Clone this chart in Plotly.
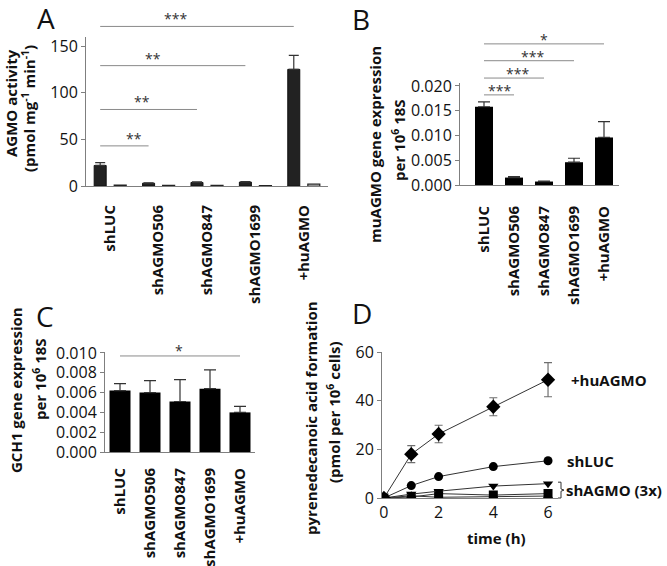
import plotly.graph_objects as go

W, H = 667, 566

# ---------------- data ----------------
cats = ["shLUC", "shAGMO506", "shAGMO847", "shAGMO1699", "+huAGMO"]

# Panel A (AGMO activity)
a_dark = [22.0, 3.0, 3.8, 4.2, 125.0]
a_dark_err = [3.0, 0.5, 0.6, 0.5, 15.0]
a_open = [1.0, 0.8, 0.8, 0.3, 2.0]
a_sig_to = [4, 3, 2, 1]
a_sig_y = [171, 129, 82, 43]
a_sig_lab = ["***", "**", "**", "**"]
a_star_x = [1.34, 0.88, 0.66, 0.49]

# Panel B (muAGMO expression)
b_vals = [0.0158, 0.0015, 0.0007, 0.0046, 0.0096]
b_err = [0.0010, 0.0002, 0.0001, 0.0008, 0.0032]
b_sig_to = [1, 2, 3, 4]
b_sig_y = [0.0182, 0.0216, 0.0251, 0.0285]
b_sig_lab = ["***", "***", "***", "*"]
b_star_x = [0.5, 1.1, 1.63, 2.0]

# Panel C (GCH1 expression)
c_vals = [0.0062, 0.0060, 0.0051, 0.0064, 0.0040]
c_err = [0.0007, 0.0012, 0.0022, 0.0019, 0.0006]
c_sig_to = [4]
c_sig_y = [0.0097]
c_sig_lab = ["*"]
c_star_x = [1.98]

# Panel D (pyrenedecanoic acid formation)
t = [0, 1, 2, 4, 6]
d_hu = [0, 18.0, 26.3, 37.5, 48.6]
d_hu_err = [0, 3.5, 3.6, 3.7, 7.0]
d_luc = [0, 5.1, 8.8, 12.9, 15.3]
d_sh1 = [0, 1.6, 2.8, 4.9, 5.9]
d_sh2 = [0, 0.4, 1.8, 1.2, 1.8]
d_sh3 = [0, 0.9, 0.3, 0.7, 0.8]

# ---------------- layout geometry (pixels) ----------------
FONT = "Open Sans"
DARK = "#111111"
AXC = "#7f7f7f"


def px(x):
    return x / W


def py(y):
    return 1 - y / H


PA = dict(xd=(86, 328), yd=(36.7, 186), xr=(-0.5, 4.5), yr=(0, 160))
PB = dict(xd=(460, 619), yd=(83, 185), xr=(-0.8, 4.5), yr=(0, 0.0206))
PC = dict(xd=(105, 255), yd=(352, 452), xr=(-0.5, 4.5), yr=(0, 0.0101))
PD = dict(xd=(382, 557.6), yd=(352, 498), xr=(-0.07, 6.35), yr=(0, 60))


def dom_x(p):
    return [px(p["xd"][0]), px(p["xd"][1])]


def dom_y(p):
    return [py(p["yd"][1]), py(p["yd"][0])]


def to_px(p, v):
    d = dom_x(p)
    r = p["xr"]
    return d[0] + (v - r[0]) / (r[1] - r[0]) * (d[1] - d[0])


def to_py(p, v):
    d = dom_y(p)
    r = p["yr"]
    return d[0] + (v - r[0]) / (r[1] - r[0]) * (d[1] - d[0])


fig = go.Figure()

# ---- Panel A bars
A_OFF = 0.207
A_W = 0.248
fig.add_trace(go.Bar(
    x=list(range(5)), y=a_dark, width=A_W, offset=-A_OFF - A_W / 2,
    marker=dict(color="#222222", line=dict(color="#111111", width=1)),
    error_y=dict(type="data", array=a_dark_err, arrayminus=[0] * 5, symmetric=False,
                 color="#333333", thickness=1.2, width=5),
    xaxis="x", yaxis="y"))
fig.add_trace(go.Bar(
    x=list(range(5)), y=a_open, width=A_W, offset=A_OFF - A_W / 2,
    marker=dict(color="#ffffff", line=dict(color="#222222", width=1.2)),
    xaxis="x", yaxis="y"))

# ---- Panel B bars
fig.add_trace(go.Bar(
    x=list(range(5)), y=b_vals, width=0.6, offset=-0.3,
    marker=dict(color="#000000", line=dict(width=0)),
    error_y=dict(type="data", array=b_err, arrayminus=[0] * 5, symmetric=False,
                 color="#333333", thickness=1.2, width=6),
    xaxis="x2", yaxis="y2"))

# ---- Panel C bars
fig.add_trace(go.Bar(
    x=list(range(5)), y=c_vals, width=0.7, offset=-0.35,
    marker=dict(color="#000000", line=dict(width=0)),
    error_y=dict(type="data", array=c_err, arrayminus=[0] * 5, symmetric=False,
                 color="#333333", thickness=1.2, width=6),
    xaxis="x3", yaxis="y3"))

# ---- Panel D lines
LC = "#333333"
fig.add_trace(go.Scatter(x=t, y=d_sh3, mode="lines+markers",
                         line=dict(color=LC, width=1),
                         marker=dict(symbol="triangle-up", size=9, color="#000"),
                         xaxis="x4", yaxis="y4"))
fig.add_trace(go.Scatter(x=t, y=d_sh2, mode="lines+markers",
                         line=dict(color=LC, width=1),
                         marker=dict(symbol="square", size=9, color="#000"),
                         xaxis="x4", yaxis="y4"))
fig.add_trace(go.Scatter(x=t, y=d_sh1, mode="lines+markers",
                         line=dict(color=LC, width=1),
                         marker=dict(symbol="triangle-down", size=9, color="#000"),
                         xaxis="x4", yaxis="y4"))
fig.add_trace(go.Scatter(x=t, y=d_luc, mode="lines+markers",
                         line=dict(color=LC, width=1),
                         marker=dict(symbol="circle", size=9, color="#000"),
                         xaxis="x4", yaxis="y4"))
fig.add_trace(go.Scatter(x=t, y=d_hu, mode="lines+markers",
                         line=dict(color=LC, width=1),
                         marker=dict(symbol="diamond", size=11, color="#000"),
                         error_y=dict(type="data", array=d_hu_err, color="#6f6f6f",
                                      thickness=1.2, width=4),
                         xaxis="x4", yaxis="y4"))

# ---------------- axes ----------------
tickfont = dict(family=FONT, size=16, color=DARK)
catfont = dict(family=FONT, size=15, color=DARK, weight="bold")


def cat_axis(p, anchor, standoff):
    return dict(domain=dom_x(p), range=list(p["xr"]), anchor=anchor,
                tickmode="array", tickvals=list(range(5)), ticktext=cats,
                tickangle=-90, tickfont=catfont, ticks="", showgrid=False,
                zeroline=False, showline=True, linecolor=AXC, linewidth=1,
                ticklabelstandoff=standoff, fixedrange=True, automargin=False)


def val_axis(p, anchor, tickvals, fmt):
    return dict(domain=dom_y(p), range=list(p["yr"]), anchor=anchor,
                tickmode="array", tickvals=tickvals, tickformat=fmt,
                tickfont=tickfont, ticks="outside", ticklen=4, tickcolor=AXC,
                showgrid=False, zeroline=False, showline=True, linecolor=AXC,
                linewidth=1, fixedrange=True, automargin=False)


fig.update_layout(
    xaxis=cat_axis(PA, "y", 12),
    yaxis=val_axis(PA, "x", [0, 50, 100, 150], "d"),
    xaxis2=cat_axis(PB, "y2", 14),
    yaxis2=val_axis(PB, "x2", [0, 0.005, 0.010, 0.015, 0.020], ".3f"),
    xaxis3=cat_axis(PC, "y3", 9),
    yaxis3=val_axis(PC, "x3", [0, 0.002, 0.004, 0.006, 0.008, 0.010], ".3f"),
    xaxis4=dict(domain=dom_x(PD), range=list(PD["xr"]), anchor="y4",
                tickmode="array", tickvals=[0, 2, 4, 6], tickfont=tickfont,
                ticks="", showgrid=False, zeroline=False, showline=True,
                linecolor=AXC, linewidth=1, fixedrange=True, automargin=False),
    yaxis4=val_axis(PD, "x4", [0, 20, 40, 60], "d"),
)

# ---------------- significance lines + stars ----------------
shapes = []
annos = []
SIGC = "#8a8a8a"
STARF = dict(family=FONT, size=14, color="#333333")


def add_sig(p, x0, to_list, ys, labs, sx, yshift):
    for k, y, lab, xs in zip(to_list, ys, labs, sx):
        yp = to_py(p, y)
        shapes.append(dict(type="line", xref="paper", yref="paper",
                           x0=to_px(p, x0), x1=to_px(p, k + x0),
                           y0=yp, y1=yp, line=dict(color=SIGC, width=1)))
        annos.append(dict(x=to_px(p, xs), y=yp, xref="paper", yref="paper", text=lab,
                          showarrow=False, xanchor="center", yanchor="bottom",
                          yshift=yshift, font=STARF))


add_sig(PA, -A_OFF, a_sig_to, a_sig_y, a_sig_lab, a_star_x, -4)
add_sig(PB, 0, b_sig_to, b_sig_y, b_sig_lab, b_star_x, -7)
add_sig(PC, 0, c_sig_to, c_sig_y, c_sig_lab, c_star_x, -6)

# ---------------- bracket for shAGMO (3x) ----------------
yb_top = to_py(PD, 6.5)
yb_bot = to_py(PD, 0)
ymid = (yb_top + yb_bot) / 2
xl, xv, xn = px(558), px(561), px(564)
shapes.append(dict(type="path", xref="paper", yref="paper",
                   path=f"M {xl},{yb_top} L {xv},{yb_top} L {xv},{ymid + 0.002} L {xn},{ymid} "
                        f"L {xv},{ymid - 0.002} L {xv},{yb_bot} L {xl},{yb_bot}",
                   line=dict(color="#333333", width=1)))

# ---------------- text annotations ----------------
BOLD = dict(family=FONT, size=15, color=DARK, weight="bold")
LETTER = dict(family=FONT, size=28, color=DARK)

for lab, x, y in [("A", 46, 18), ("B", 361, 19), ("C", 45, 316), ("D", 362, 313)]:
    annos.append(dict(x=px(x), y=py(y), xref="paper", yref="paper", text=lab,
                      showarrow=False, xanchor="center", yanchor="middle", font=LETTER))

ytitles = [
    ("AGMO activity", 11, 103),
    ("(pmol mg<sup>-1</sup> min<sup>-1</sup>)", 28, 109),
    ("muAGMO gene expression", 375, 145),
    ("per 10<sup>6</sup> 18S", 398, 140),
    ("GCH1 gene expression", 16, 390),
    ("per 10<sup>6</sup> 18S", 39, 379),
    ("pyrenedecanoic acid formation", 311, 418),
    ("(pmol per 10<sup>6</sup> cells)", 333, 413),
]
for txt, x, y in ytitles:
    annos.append(dict(x=px(x), y=py(y), xref="paper", yref="paper", text=txt,
                      textangle=-90, showarrow=False, xanchor="center",
                      yanchor="middle", font=BOLD))

annos.append(dict(x=px(496), y=py(538), xref="paper", yref="paper", text="time (h)",
                  showarrow=False, xanchor="center", yanchor="middle", font=BOLD))

annos.append(dict(x=6, y=d_hu[-1], xref="x4", yref="y4", text="+huAGMO", showarrow=False,
                  xanchor="left", yanchor="middle", xshift=21, font=BOLD))
annos.append(dict(x=6, y=d_luc[-1], xref="x4", yref="y4", text="shLUC", showarrow=False,
                  xanchor="left", yanchor="middle", xshift=17, font=BOLD))
annos.append(dict(x=px(564), y=ymid, xref="paper", yref="paper", text="shAGMO (3x)",
                  showarrow=False, xanchor="left", yanchor="middle", font=BOLD))

fig.update_layout(
    width=W, height=H, margin=dict(l=0, r=0, t=0, b=0),
    paper_bgcolor="white", plot_bgcolor="white",
    showlegend=False, barmode="overlay",
    shapes=shapes, annotations=annos,
    font=dict(family=FONT, color=DARK),
)

fig.write_html(
    "out.html",
    config={"displayModeBar": False},
    post_script="document.body.style.margin='0';document.body.style.padding='0';"
                "document.body.style.overflow='hidden';",
)
